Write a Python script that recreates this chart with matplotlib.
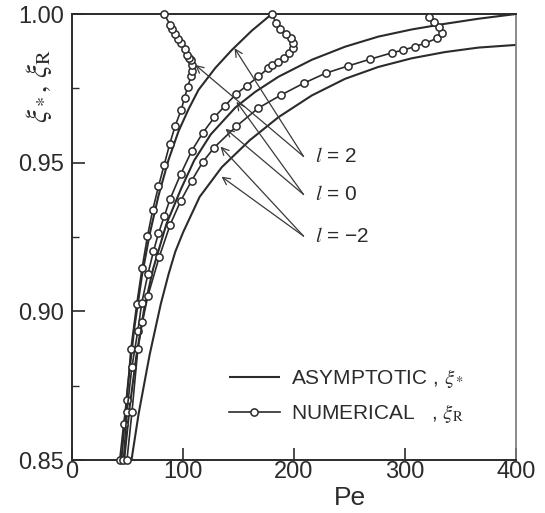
import matplotlib
matplotlib.use('Agg')
import matplotlib.pyplot

# asymptotic xi_* (solid lines), l = 2, 0, -2
peAsymL2 = [44.5, 50.0, 56.0, 63.0, 70.0, 78.0, 87.0, 95.9, 105.0, 114.0, 129.0, 144.0, 162.0, 180.0]
xiAsymL2 = [0.850, 0.874, 0.894, 0.912, 0.926, 0.939, 0.951, 0.9605, 0.968, 0.9745, 0.9818, 0.9879, 0.9944, 1.000]
peAsymL0 = [47.0, 52.0, 58.0, 65.0, 73.0, 85.0, 98.0, 110.0, 125.0, 147.3, 165.0, 186.0, 216.0, 246.0, 276.0, 306.0, 336.0, 366.0, 400.0]
xiAsymL0 = [0.850, 0.868, 0.885, 0.9007, 0.9142, 0.9293, 0.941, 0.9507, 0.9595, 0.9686, 0.9738, 0.9789, 0.9846, 0.9890, 0.9924, 0.9948, 0.9967, 0.9984, 1.000]
peAsymLm2 = [53.6, 60.0, 70.0, 80.0, 87.0, 93.0, 100.0, 115.0, 135.0, 160.0, 186.0, 216.0, 246.0, 276.0, 306.0, 336.0, 366.0, 400.0]
xiAsymLm2 = [0.850, 0.8655, 0.8855, 0.9025, 0.9125, 0.9200, 0.9265, 0.9385, 0.9485, 0.9575, 0.9653, 0.9726, 0.9782, 0.9822, 0.9851, 0.9872, 0.9887, 0.9896]

# numerical xi_R (lines with open circles)
peNumL2 = [43.0, 46.5, 49.4, 53.0, 58.4, 63.2, 68.0, 72.8, 77.9, 83.0, 88.1, 93.0, 98.4, 101.4, 104.3, 107.4, 107.9, 107.9, 107.4, 105.5, 103.8, 101.4, 98.4, 95.9, 93.0, 90.5, 88.5, 83.0]
xiNumL2 = [0.850, 0.862, 0.8702, 0.8872, 0.9026, 0.9147, 0.9253, 0.9342, 0.9420, 0.9492, 0.9564, 0.9624, 0.9678, 0.9718, 0.9756, 0.9793, 0.9809, 0.9827, 0.9846, 0.9852, 0.9862, 0.9882, 0.9902, 0.9915, 0.9933, 0.9949, 0.9963, 1.000]
peNumL0 = [46.4, 49.4, 53.9, 59.3, 62.9, 68.3, 73.4, 77.9, 83.3, 88.5, 98.0, 107.9, 117.8, 128.1, 138.0, 147.9, 157.5, 168.0, 177.0, 180.6, 186.0, 191.4, 195.7, 199.5, 199.5, 197.5, 192.6, 187.6, 183.6, 180.6]
xiNumL0 = [0.850, 0.866, 0.8812, 0.8934, 0.9029, 0.9124, 0.9202, 0.9262, 0.9322, 0.9379, 0.9462, 0.9540, 0.9600, 0.9652, 0.9692, 0.9731, 0.9759, 0.9790, 0.9818, 0.9829, 0.9840, 0.9851, 0.9868, 0.9885, 0.9902, 0.9918, 0.9933, 0.9949, 0.9969, 1.000]
peNumLm2 = [49.5, 54.0, 59.3, 63.5, 68.3, 78.6, 88.5, 98.0, 107.9, 117.8, 128.1, 147.9, 168.0, 188.5, 208.6, 228.6, 248.5, 268.6, 288.7, 298.6, 308.6, 318.2, 328.6, 333.2, 330.2, 325.7, 321.8]
xiNumLm2 = [0.850, 0.866, 0.8872, 0.8965, 0.9051, 0.9183, 0.9292, 0.9372, 0.9440, 0.9502, 0.9551, 0.9622, 0.9684, 0.9728, 0.9767, 0.9801, 0.9825, 0.9848, 0.9870, 0.9879, 0.9890, 0.9902, 0.9918, 0.9935, 0.9957, 0.9974, 0.9990]

# annotation labels, text anchor (Pe, xi) and arrow tips
labelText = ['$l$ = 2', '$l$ = 0', '$l$ = \u22122']
labelPe = [219.0, 219.0, 219.0]
labelXi = [0.9521, 0.9393, 0.9253]
tailPe = [208.6, 208.6, 208.6]
tipsPe = [[111.0, 146.4], [148.2, 138.3], [133.8, 134.7]]
tipsXi = [[0.9829, 0.9885], [0.9705, 0.9614], [0.9554, 0.9453]]

xTicks = [0, 100, 200, 300, 400]
yTicks = [0.85, 0.90, 0.95, 1.00]
yMinor = [0.875, 0.925, 0.975]

ink = '#2b2b2b'

def main():
    matplotlib.pyplot.rcParams.update({'font.family': ['Liberation Sans', 'DejaVu Sans'],
                                       'mathtext.fontset': 'stix'})
    fig = matplotlib.pyplot.figure(figsize=(5.45, 5.13), dpi=100)
    ax = fig.add_axes([0.1321, 0.1033, 0.8147, 0.8694])

    lineKw = dict(color=ink, lw=1.5, solid_capstyle='butt')
    markKw = dict(color=ink, lw=1.2, marker='o', ms=5.2, mfc='white', mec=ink, mew=1.1)
    ax.plot(peAsymL2, xiAsymL2, label='ASYMPTOTIC , $\\xi_*$', **lineKw)
    ax.plot(peAsymL0, xiAsymL0, **lineKw)
    ax.plot(peAsymLm2, xiAsymLm2, **lineKw)
    ax.plot(peNumL2, xiNumL2, label='NUMERICAL   , $\\xi_{\\mathrm{R}}$', clip_on=False, zorder=3, **markKw)
    ax.plot(peNumL0, xiNumL0, clip_on=False, zorder=3, **markKw)
    ax.plot(peNumLm2, xiNumLm2, clip_on=False, zorder=3, **markKw)

    for text, lx, ly, tx, pxs, pys in zip(labelText, labelPe, labelXi, tailPe, tipsPe, tipsXi):
        ax.text(lx, ly, text, fontsize=15, va='center', ha='left', color=ink)
        for px, py in zip(pxs, pys):
            ax.annotate('', xy=(px, py), xytext=(tx, ly),
                        arrowprops=dict(arrowstyle='->', color='#3a3a3a', lw=0.9,
                                        shrinkA=0, shrinkB=0, mutation_scale=13))

    ax.set_xlim(0, 400)
    ax.set_ylim(0.85, 1.00)
    ax.set_xticks(xTicks)
    ax.set_yticks(yTicks)
    ax.set_yticks(yMinor, minor=True)
    ax.set_yticklabels([f'{v:.2f}' for v in yTicks])
    ax.tick_params(axis='both', which='major', direction='in', length=9, width=1.2,
                   labelsize=17, colors=ink)
    ax.tick_params(axis='y', which='minor', direction='in', length=5, width=1.0, colors=ink)
    ax.tick_params(axis='x', pad=1)
    ax.tick_params(axis='y', pad=6)
    for side in ['left', 'bottom', 'top']:
        ax.spines[side].set_color(ink)
        ax.spines[side].set_linewidth(1.4)
    ax.spines['right'].set_color('#777777')
    ax.spines['right'].set_linewidth(1.2)

    ax.set_xlabel('Pe', fontsize=19, color=ink)
    ax.xaxis.set_label_coords(0.626, -0.058)
    ax.set_ylabel('$\\xi_*,\\,\\xi_{\\mathrm{R}}$', fontsize=21, color=ink)
    ax.yaxis.set_label_coords(-0.04, 0.84)

    ax.legend(loc='upper left', bbox_to_anchor=(0.353, 0.209), frameon=False, fontsize=15,
              handlelength=2.45, handletextpad=0.56, borderpad=0, borderaxespad=0,
              labelspacing=0.6, labelcolor=ink)

    fig.savefig('out.png', dpi=100)
    matplotlib.pyplot.close('all')

if __name__ == '__main__':
    main()
